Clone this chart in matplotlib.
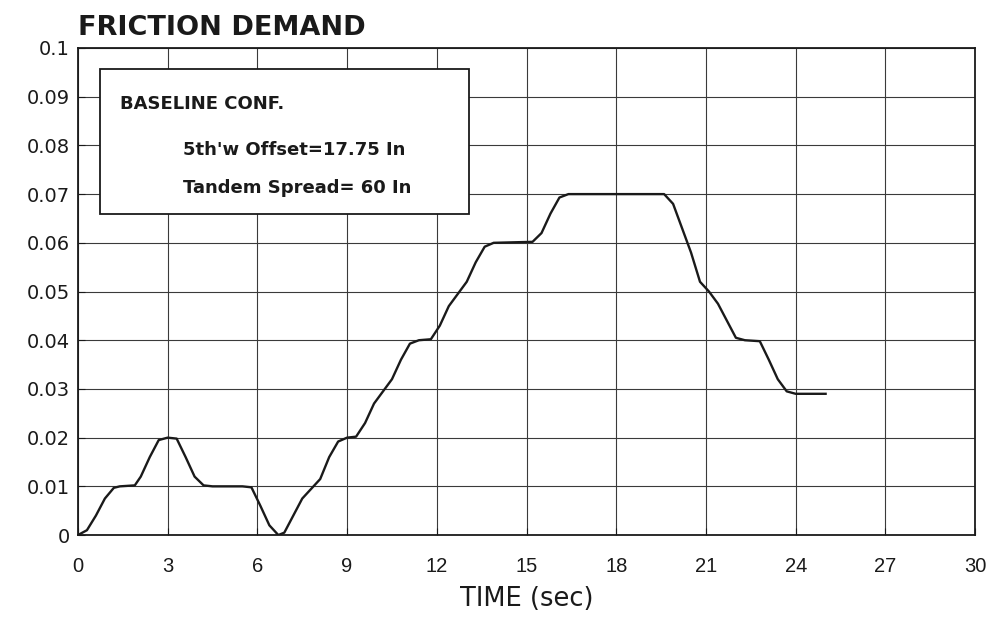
import numpy as np
import matplotlib
matplotlib.use("Agg")
import matplotlib.pyplot as plt

plt.rcParams['font.family'] = ['DejaVu Sans']

# values
time_s = [0.0, 0.3, 0.6, 0.9, 1.2, 1.4, 1.9, 2.1, 2.4, 2.7, 3.0, 3.3, 3.6, 3.9,
          4.2, 4.5, 5.5, 5.8, 6.1, 6.4, 6.7, 6.9, 7.2, 7.5, 7.8, 8.1, 8.4, 8.7,
          9.0, 9.3, 9.6, 9.9, 10.2, 10.5, 10.8, 11.1, 11.4, 11.8, 12.1, 12.4,
          12.7, 13.0, 13.3, 13.6, 13.9, 15.2, 15.5, 15.8, 16.1, 16.4, 19.6, 19.9,
          20.2, 20.5, 20.8, 21.1, 21.4, 21.7, 22.0, 22.3, 22.8, 23.1, 23.4, 23.7,
          24.0, 25.0]
friction = [0.0, 0.001, 0.004, 0.0075, 0.0097, 0.010, 0.0102, 0.012, 0.016, 0.0195,
            0.020, 0.0198, 0.016, 0.012, 0.0102, 0.010, 0.010, 0.0098, 0.006, 0.002,
            0.000, 0.0005, 0.004, 0.0075, 0.0095, 0.0115, 0.016, 0.0192, 0.020, 0.0202,
            0.023, 0.027, 0.0295, 0.032, 0.036, 0.0393, 0.040, 0.0402, 0.043, 0.047,
            0.0495, 0.052, 0.056, 0.0592, 0.060, 0.0602, 0.062, 0.066, 0.0693, 0.070,
            0.070, 0.068, 0.063, 0.058, 0.052, 0.050, 0.0475, 0.044, 0.0405, 0.040,
            0.0398, 0.036, 0.032, 0.0295, 0.029, 0.029]

x_ticks = list(range(0, 31, 3))
y_ticks = [0, 0.01, 0.02, 0.03, 0.04, 0.05, 0.06, 0.07, 0.08, 0.09, 0.1]
y_labels = ['0', '0.01', '0.02', '0.03', '0.04', '0.05', '0.06', '0.07', '0.08', '0.09', '0.1']

legend_lines = ['BASELINE CONF.', "5th'w Offset=17.75 In", 'Tandem Spread= 60 In']

fig = plt.figure(figsize=(9.92, 6.28), dpi=100)
ax = fig.add_axes([0.0786, 0.148, 0.9044, 0.7756])

ax.plot(time_s, friction, color='#1a1a1a', lw=1.7, zorder=3)

ax.set_xlim(0, 30)
ax.set_ylim(0, 0.1)
ax.set_xticks(x_ticks)
ax.set_xticklabels([str(v) for v in x_ticks], family='Liberation Sans', fontsize=14.5)
ax.set_yticks(y_ticks)
ax.set_yticklabels(y_labels, fontsize=14)
ax.grid(True, color='#3a3a3a', lw=0.8)
ax.tick_params(direction='in', length=5, colors='#1a1a1a')
ax.tick_params(axis='x', pad=16)
ax.tick_params(axis='y', pad=6)
for sp in ax.spines.values():
    sp.set_linewidth(1.3)
    sp.set_color('#1a1a1a')

ax.set_xlabel('TIME (sec)', fontsize=18.5, labelpad=7, color='#1a1a1a')
fig.text(0.079, 0.934, 'FRICTION DEMAND', fontsize=19.5, fontweight='bold',
         ha='left', va='bottom', color='#1a1a1a')

# annotation box
ax.add_patch(plt.Rectangle((0.72, 0.066), 12.35, 0.0296, facecolor='white',
                           edgecolor='#1a1a1a', lw=1.3, zorder=4))
ax.text(1.4, 0.0885, legend_lines[0], fontsize=13, fontweight='bold', zorder=5,
        va='center', color='#1a1a1a')
ax.text(3.5, 0.079, legend_lines[1], fontsize=13, fontweight='bold', zorder=5,
        va='center', color='#1a1a1a')
ax.text(3.5, 0.0712, legend_lines[2], fontsize=13, fontweight='bold', zorder=5,
        va='center', color='#1a1a1a')

fig.savefig('out.png', dpi=100)
